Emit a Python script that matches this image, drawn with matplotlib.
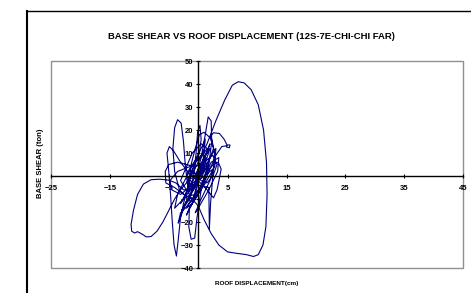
import numpy as np
import matplotlib.pyplot as plt
from matplotlib.patches import Rectangle
from matplotlib.lines import Line2D

# roof displacement (cm) / base shear (ton)
disp = [0, 0.6, -0.4, 1.0, -0.8, 1.3, -1.2, 1.0, -0.5,
        0.5, 1.2, 1.7, 2.2, 2.3, 1.8, 0.8, -0.5, -1.5,
        -1.6, -1.2, -0.6, -0.2, 0.5, 1.5, 2.6,
        2.0, 2.6, 3.6, 4.4, 4.9, 5.4, 5.3, 4.8, 4.9, 4.0, 3.0, 2.0, 1.0, -0.5,
        -2.0, -3.2, -4.0, -4.3, -4.0, -3.5, -2.9, -2.5, -2.2, -1.8, -1.4,
        -2.2, -3.0, -3.4, -3.7, -4.1, -4.4, -4.7, -5.0, -5.3, -4.9, -4.2, -3.0,
        -1.5, 0.0, 1.5, 2.6, 3.2, 3.6, 3.9, 3.4, 2.6,
        1.5, 0.3, -1.0, -2.2, -3.0, -3.4, -3.0, -2.5, -1.8, -1.0, 0.2, 0.5,
        0.3, -0.1, -0.3, -0.6, -1.2,
        -2.5, -3.8, -5.0, -6.5, -8.0, -9.3, -10.3, -11.0, -11.4, -11.3, -10.8,
        -10.3, -9.5, -8.8, -8.0, -7.0, -6.0, -5.0, -4.0, -3.0, -2.0, -1.0, 0.0,
        1.5, 3.0, 4.5, 5.8, 6.8, 7.8, 9.0, 10.2, 11.1, 11.6, 11.7, 11.5, 11.0,
        10.2, 9.4, 8.2, 6.5, 5.0, 3.5, 2.2, 1.0, 0.0,
        -1.0, -2.5, -4.0, -5.5, -5.6, -5.0, -3.5, -2.0, -0.5, 1.0, 2.5, 3.2,
        2.5, 1.5, 0.5, -0.5, -1.5, -2.0, -1.0, 0.5, 1.2, 0.2,
        -1.0, -2.0, -0.5, 1.0, 2.0, 1.0, -0.8, -1.8, -0.5, 0.8, 1.5, 0.3,
        -3.0, -1.0, 1.0, 2.0, 1.5, -0.5, -2.5, -4.0, -3.5, -1.5, 0.5, 1.2,
        0.8, -1.0, -2.8, -2.0, 0.0, 2.0, 3.0, 2.8, 1.0, -1.0, -2.0, -1.5,
        0.5, 2.2, 3.5, 3.3, 1.8, 0.0, -0.5, 0.5, 2.0, 2.5, 1.0, -1.0,
        -3.0, -4.5, -4.8, -3.5, -1.5, 0.5, 1.5, 0.5, -1.0, -2.0, -3.0, -2.0,
        0.0, 1.8, 1.9, 2.1, 2.8, 2.3, 1.0, 0.2, -0.5, -1.5, -0.3, 0.4]
shear = [0, 4, -3, 6, -5, 8, -7, 5, -2,
         8, 18, 25.7, 24, 15, 5, -4, -10, -14,
         -22, -27.5, -27, -18, -6, 4, 12,
         17, 18.8, 18.5, 16, 13.5, 13.5, 12.3, 12.6, 13.2, 12.8, 9, 3, -3, -8,
         -9, -6, 2, 12, 21, 24.5, 23, 15, 5, -4, -10,
         -12, -18, -28, -34.8, -30, -20, -8, 2, 10, 12.8, 11, 6,
         1, -2, -6, -9.5, -6, -1, 3, 6, 5,
         2, -5, -10, -14, -16, -20.5, -18, -12, -5, 2, 10, 16,
         22, 19, 12, 3, -6,
         -6, -3, -1.8, -1.4, -1.6, -3.5, -8, -15, -21, -24, -24.8,
         -24.2, -25.3, -26.5, -26.3, -24, -20, -15, -10, -6, -3, 1, 6,
         14, 24, 33, 39.5, 41, 40.5, 37.5, 31, 20, 6, -8, -22, -30,
         -34.2, -35, -34.2, -33.6, -33, -30, -25, -19, -13,
         -10, -8, -5, -3, 2, 5, 6, 5, 4, 6, 9, 5,
         0, -3, -2, 1, 3, 0, -3, -1, 3, 1,
         -12, -14, -8, 8, 12, 4, -6, -2, 6, 10, 4, 0,
         -12, -2, 8, 14, 10, 0, -10, -14, -8, 2, 12, 16,
         6, -6, -15, -12, -2, 8, 12, 4, -4, -12, -17, -14,
         -4, 6, 8, 2, -6, -14, -16, -10, -2, 3, 0, -4,
         -8, -6, -2, 2, 4, 8, 12, 14, 10, 4, -2, -6,
         -4, -5, -23, -12, 10, 16, 19, 18, 12, 2, 1, 0]

xticks = [-25, -15, -5, 5, 15, 25, 35, 45]
yticks = [-40, -30, -20, -10, 0, 10, 20, 30, 40, 50]

plt.rcParams['font.family'] = ['Liberation Sans', 'DejaVu Sans']

fig = plt.figure(figsize=(4.71, 2.93), dpi=100)
ax = fig.add_axes([0.1083, 0.0853, 0.875, 0.7065])

ax.plot(disp, shear, color='#000080', lw=0.8)

ax.set_xlim(-25, 45)
ax.set_ylim(-40, 50)
ax.set_xticks(xticks)
ax.set_yticks(yticks)

for s in ['top', 'right']:
    ax.spines[s].set_visible(False)
ax.spines['left'].set_position(('data', 0))
ax.spines['bottom'].set_position(('data', 0))
ax.spines['left'].set_linewidth(1.0)
ax.spines['bottom'].set_linewidth(1.0)

ax.add_patch(Rectangle((0, 0), 1, 1, transform=ax.transAxes, fill=False,
                       edgecolor='#909090', lw=1.0, clip_on=False, zorder=0))

ax.tick_params(axis='both', direction='inout', length=3, width=0.8,
               labelsize=5.5)
ax.tick_params(axis='x', pad=5)
ax.tick_params(axis='y', pad=2)
for lab in ax.get_xticklabels() + ax.get_yticklabels():
    lab.set_fontweight('bold')

fig.text(0.534, 0.875, 'BASE SHEAR VS ROOF DISPLACEMENT (12S-7E-CHI-CHI FAR)',
         ha='center', va='center', fontsize=6.8, fontweight='bold')
fig.text(0.545, 0.031, 'ROOF DISPLACEMENT(cm)', ha='center', va='center',
         fontsize=4.6, fontweight='bold')
fig.text(0.086, 0.444, 'BASE SHEAR (ton)', ha='center', va='center',
         rotation=90, fontsize=5.5, fontweight='bold')

# outer chart frame
fig.add_artist(Line2D([27 / 471, 27 / 471], [0, 1 - 11 / 293], color='black', lw=1.5))
fig.add_artist(Line2D([27 / 471, 1], [1 - 11 / 293, 1 - 11 / 293], color='black', lw=1.0))

fig.savefig('out.png', dpi=100)
